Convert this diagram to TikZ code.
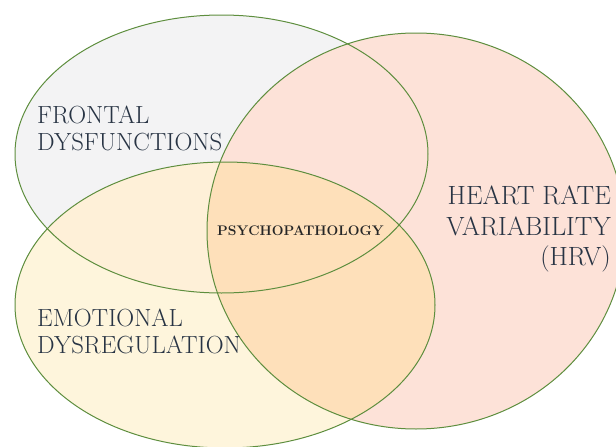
\documentclass[tikz,border=0pt]{standalone}
\usepackage{tikz}

\definecolor{vennline}{HTML}{5E8E3E}
\definecolor{vennink}{HTML}{283444}
\definecolor{frontalfill}{HTML}{F3F3F4}
\definecolor{hrvfill}{HTML}{FDE2D8}
\definecolor{emotionfill}{HTML}{FEF5DC}
\definecolor{frontemofill}{HTML}{FEF0D8}
\definecolor{hrvemofill}{HTML}{FEE0BA}

\newcommand{\frontalset}{(221.5,154) ellipse [x radius=206.5, y radius=139]}
\newcommand{\hrvset}{(416,231) ellipse [x radius=209, y radius=198]}
\newcommand{\emotionset}{(225,305) ellipse [x radius=210, y radius=143]}

\tikzset{
  vennedge/.style={draw=vennline, line width=1pt},
  settext/.style={inner sep=0pt, text=vennink, align=left,
    font=\fontsize{24.8}{26.5}\selectfont},
  hrvtext/.style={inner sep=0pt, text=vennink, align=right,
    font=\fontsize{26.4}{30.5}\selectfont},
  coretext/.style={inner sep=0pt, text=black!85,
    font=\fontsize{13.9}{16}\selectfont\bfseries}
}

\begin{document}
\begin{tikzpicture}[x=1pt,y=-1pt]
\useasboundingbox (0,0) rectangle (616,447);

\fill[frontalfill] \frontalset;
\fill[emotionfill] \emotionset;
\begin{scope}
\clip \frontalset;
\fill[frontemofill] \emotionset;
\end{scope}
\fill[hrvfill] \hrvset;
\begin{scope}
\clip \hrvset;
\fill[hrvemofill] \emotionset;
\end{scope}

\draw[vennedge] \frontalset;
\draw[vennedge] \hrvset;
\draw[vennedge] \emotionset;

\node[settext, anchor=north west] (frontal) at (37,106) {FRONTAL\\DYSFUNCTIONS};
\node[settext, anchor=north west] (emotional) at (37,309) {EMOTIONAL\\DYSREGULATION};
\node[hrvtext, anchor=north east] (hrv) at (611,186) {HEART RATE\\VARIABILITY\\(HRV)};
\node[coretext, anchor=base west] (psycho) at (217,235) {PSYCHOPATHOLOGY};
\end{tikzpicture}
\end{document}
